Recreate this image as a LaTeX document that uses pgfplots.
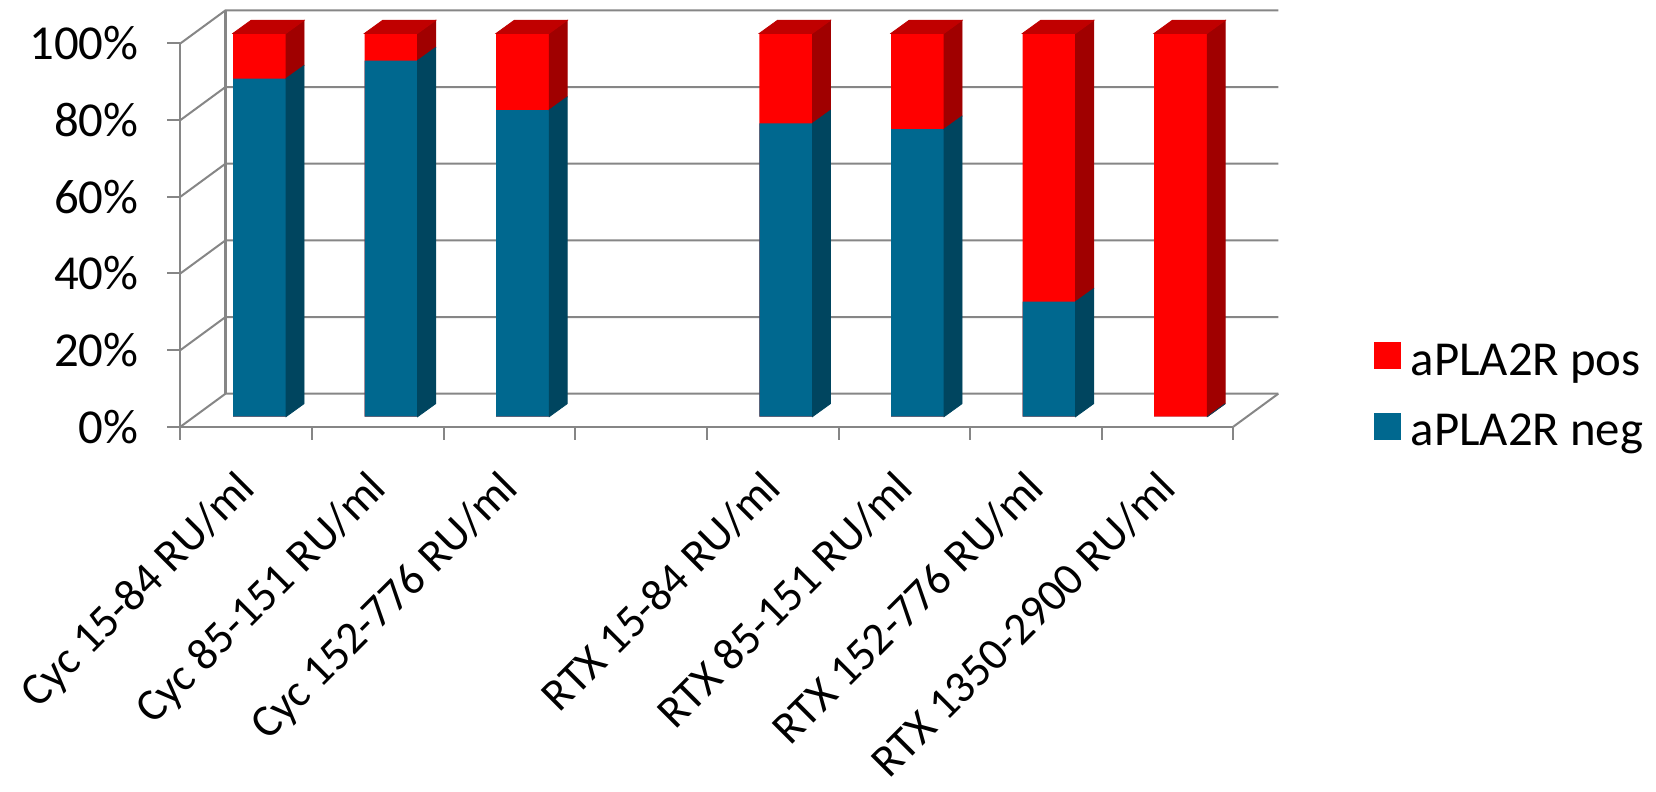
\documentclass[border=0pt]{standalone}
\usepackage{fontspec}
\setmainfont{Carlito}
\usepackage{pgfplots}
\pgfplotsset{compat=1.18}
\usepackage{pgfplotstable}

\definecolor{negfront}{RGB}{0,104,143}
\definecolor{negside}{RGB}{0,69,95}
\definecolor{posfront}{RGB}{255,0,0}
\definecolor{posside}{RGB}{160,0,0}
\definecolor{postop}{RGB}{192,0,0}
\definecolor{frame}{RGB}{134,134,134}

% share of patients per group (percent)
\pgfplotstableread{
x neg pos
0 88.2 11.8
1 92.9 7.1
2 80.0 20.0
4 76.5 23.5
5 75.0 25.0
6 30.0 70.0
7 0.0 100.0
}\ratios

\newcommand\yu{1.9167}% pt per percent

% depth faces of a bar segment; origin = front top centre of the segment
\pgfdeclareplotmark{posprism}{%
  \fill[posside] (19.85pt,5pt-\segh pt) -- (19.85pt,5pt) -- (28.85pt,11.5pt) -- (28.85pt,11.5pt-\segh pt) -- cycle;
  \fill[postop] (-6.65pt,5pt) -- (19.85pt,5pt) -- (28.85pt,11.5pt) -- (2.35pt,11.5pt) -- cycle;
}
\pgfdeclareplotmark{negprism}{%
  \fill[negside] (19.85pt,5pt-\segh pt) -- (19.85pt,5pt) -- (28.85pt,11.5pt) -- (28.85pt,11.5pt-\segh pt) -- cycle;
}

\pgfplotsset{
  frontbar/.style={ybar, bar width=26.5pt, bar shift=6.6pt, yshift=5pt, draw=none,
    legend image code/.code={\fill[##1] (0pt,-9pt) rectangle (13.5pt,4.5pt);}},
}

\begin{document}
\begin{tikzpicture}
\useasboundingbox (0,0) rectangle (828pt,396pt);
\begin{axis}[
  at={(90.25pt,182.65pt)}, anchor=south west,
  x=65.8pt, y=1.9167pt,
  xmin=-0.5, xmax=7.5, ymin=0, ymax=100,
  clip=false,
  axis x line*=bottom, axis y line*=left,
  axis line style={draw=frame, line width=1pt},
  font=\fontsize{24.4}{29}\selectfont,
  tick align=outside,
  major tick length=6.5pt,
  tick style={draw=frame, line width=1pt},
  ytick={0,20,...,100},
  yticklabels={0\%,20\%,40\%,60\%,80\%,100\%},
  yticklabel style={anchor=east, inner sep=0pt, xshift=-14.25pt},
  xtick={-0.5,0.5,...,7.5},
  xticklabels={},
  extra x ticks={0,1,2,4,5,6,7},
  extra x tick labels={Cyc 15-84 RU/ml, Cyc 85-151 RU/ml, Cyc 152-776 RU/ml,
    RTX 15-84 RU/ml, RTX 85-151 RU/ml, RTX 152-776 RU/ml, RTX 1350-2900 RU/ml},
  extra x tick style={major tick length=0pt,
    xticklabel style={xshift=-6pt, yshift=-20.5pt, rotate=45, anchor=north east, inner sep=0pt,
      font=\fontsize{22.8}{27}\selectfont}},
  legend style={draw=none, fill=none, at={(1.133,0.081)}, anchor=west, inner sep=0pt,
    row sep=17pt, nodes={inner sep=0pt}, font=\fontsize{24.4}{29}\selectfont,
    /tikz/every odd column/.append style={column sep=5pt}},
  legend cell align=left,
]
% walls: side wall diagonals and back wall gridlines
\pgfplotsinvokeforeach{0,20,40,60,80,100}{
  \draw[frame, line width=1pt] (axis cs:-0.5,#1) -- ([shift={(22.5pt,16.5pt)}]axis cs:-0.5,#1)
    -- ([shift={(22.5pt,16.5pt)}]axis cs:7.5,#1);
}
\draw[frame, line width=1pt] ([shift={(22.5pt,16.5pt)}]axis cs:-0.5,0) -- ([shift={(22.5pt,16.5pt)}]axis cs:-0.5,100);
\draw[frame, line width=1pt] (axis cs:7.5,0) -- ([shift={(22.5pt,16.5pt)}]axis cs:7.5,0);

\addplot[frontbar, fill=posfront]
  table[x=x, y expr=\thisrow{neg}+\thisrow{pos}] {\ratios};
\addlegendentry{aPLA2R pos}
\addplot[only marks, mark=posprism, forget plot,
  visualization depends on={\yu*\thisrow{pos} \as \segh}]
  table[x=x, y expr=\thisrow{neg}+\thisrow{pos}] {\ratios};
\addplot[frontbar, fill=negfront]
  table[x=x, y=neg] {\ratios};
\addlegendentry{aPLA2R neg}
\addplot[only marks, mark=negprism, forget plot,
  visualization depends on={\yu*\thisrow{neg} \as \segh}]
  table[x=x, y=neg] {\ratios};
\end{axis}
\end{tikzpicture}
\end{document}
